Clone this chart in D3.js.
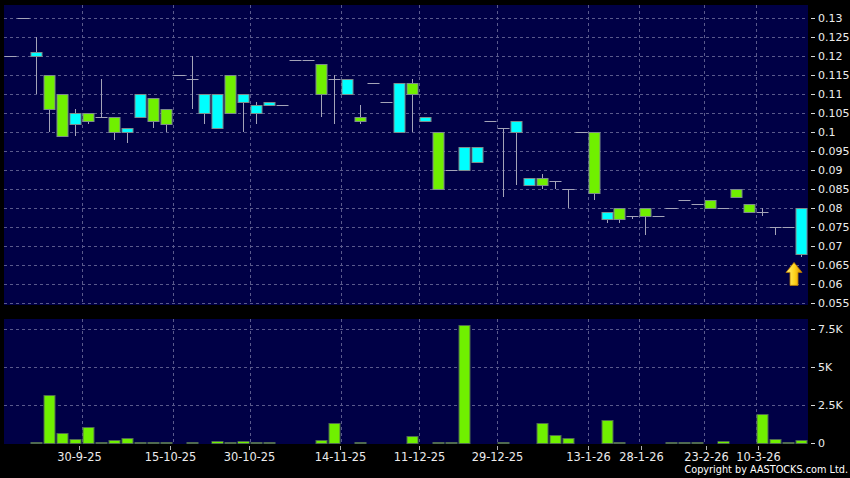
<!DOCTYPE html>
<html>
  <head>
    <meta charset="utf-8">
    <script src="https://d3js.org/d3.v7.min.js"></script>
    <style>
      body { margin: 0; background: #000; }
      svg { display: block; }
      text { font-family: "DejaVu Sans", sans-serif; font-size: 11px; fill: #ececec; }
    </style>
  </head>
  <body>
    <script type="text/javascript">

      // daily prices, one entry per trading slot (62 slots)
      var opens = [0.12, 0.13, 0.12, 0.115, 0.11, 0.102, 0.105, 0.104, 0.104, 0.1,
                   0.104, 0.109, 0.106, 0.115, 0.114, 0.105, 0.101, 0.115, 0.108, 0.105,
                   0.107, 0.107, 0.119, 0.119, 0.118, 0.114, 0.11, 0.104, 0.113, 0.108,
                   0.1, 0.113, 0.103, 0.1, 0.09, 0.09, 0.092, 0.103, 0.101, 0.1,
                   0.086, 0.088, 0.087, 0.085, 0.1, 0.1, 0.077, 0.08, 0.078, 0.08,
                   0.078, 0.08, 0.082, 0.081, 0.082, 0.08, 0.085, 0.081, 0.079, 0.075,
                   0.075, 0.068];
      var highs = [0.12, 0.13, 0.125, 0.115, 0.11, 0.106, 0.105, 0.114, 0.104, 0.101,
                   0.11, 0.109, 0.106, 0.115, 0.12, 0.11, 0.11, 0.115, 0.11, 0.108,
                   0.108, 0.107, 0.119, 0.119, 0.118, 0.115, 0.114, 0.107, 0.113, 0.108,
                   0.113, 0.114, 0.104, 0.1, 0.09, 0.096, 0.096, 0.103, 0.101, 0.103,
                   0.088, 0.089, 0.087, 0.085, 0.1, 0.1, 0.079, 0.08, 0.078, 0.08,
                   0.078, 0.08, 0.082, 0.081, 0.082, 0.08, 0.085, 0.081, 0.08, 0.075,
                   0.075, 0.08];
      var lows = [0.12, 0.13, 0.11, 0.1, 0.099, 0.099, 0.102, 0.104, 0.098, 0.097,
                  0.104, 0.101, 0.1, 0.115, 0.106, 0.102, 0.101, 0.105, 0.1, 0.102,
                  0.107, 0.107, 0.119, 0.119, 0.104, 0.102, 0.11, 0.102, 0.113, 0.108,
                  0.1, 0.1, 0.103, 0.085, 0.09, 0.09, 0.092, 0.103, 0.083, 0.086,
                  0.086, 0.085, 0.085, 0.08, 0.1, 0.082, 0.076, 0.076, 0.077, 0.073,
                  0.078, 0.08, 0.082, 0.081, 0.08, 0.08, 0.083, 0.079, 0.078, 0.073,
                  0.075, 0.067];
      var closes = [0.12, 0.13, 0.121, 0.106, 0.099, 0.105, 0.103, 0.104, 0.1, 0.101,
                    0.11, 0.103, 0.102, 0.115, 0.114, 0.11, 0.11, 0.105, 0.11, 0.107,
                    0.108, 0.107, 0.119, 0.119, 0.11, 0.114, 0.114, 0.103, 0.113, 0.108,
                    0.113, 0.11, 0.104, 0.085, 0.09, 0.096, 0.096, 0.103, 0.101, 0.103,
                    0.088, 0.086, 0.087, 0.085, 0.1, 0.084, 0.079, 0.077, 0.078, 0.078,
                    0.078, 0.08, 0.082, 0.081, 0.08, 0.08, 0.083, 0.079, 0.079, 0.075,
                    0.075, 0.08];
      var volumes = [0, 0, 30, 3160, 680, 240, 1030, 20, 175, 330,
                     70, 40, 20, 0, 40, 0, 110, 60, 110, 60,
                     60, 0, 0, 0, 175, 1320, 0, 60, 0, 0,
                     0, 480, 0, 40, 40, 7760, 0, 0, 40, 0,
                     0, 1320, 500, 330, 0, 0, 1490, 40, 0, 0,
                     0, 40, 50, 40, 0, 110, 0, 0, 1890, 240,
                     70, 220];

      // date labels and the slot each one sits on
      var labelSlots = [6, 13, 19, 26, 32, 38, 45, 49, 54, 58];
      var labelTexts = ["30-9-25", "15-10-25", "30-10-25", "14-11-25", "11-12-25",
                        "29-12-25", "13-1-26", "28-1-26", "23-2-26", "10-3-26"];

      var priceTicks = [0.13, 0.125, 0.12, 0.115, 0.11, 0.105, 0.1, 0.095,
                        0.09, 0.085, 0.08, 0.075, 0.07, 0.065, 0.06, 0.055];
      var priceTickLabels = ["0.13", "0.125", "0.12", "0.115", "0.11", "0.105", "0.1", "0.095",
                             "0.09", "0.085", "0.08", "0.075", "0.07", "0.065", "0.06", "0.055"];
      var volTicks = [7500, 5000, 2500, 0];
      var volTickLabels = ["7.5K", "5K", "2.5K", "0"];

      var W = 850, H = 478;
      var left = 4, right = 808;
      var priceTop = 5, priceBottom = 305;
      var volTop = 319, volBottom = 444;

      var navy = "#000046",
          gridColor = "#5a5a8c",
          wickColor = "#a4a4b8",
          edgeColor = "#7d8c8c",
          upColor = "#00ffff",
          downColor = "#70f000";

      var slots = d3.range(opens.length);

      var svg = d3.select("body")
        .append("svg")
          .attr("width", W)
          .attr("height", H);

      svg.append("rect").attr("width", W).attr("height", H).attr("fill", "#000");

      var x = d3.scaleBand().domain(slots).range([left, right]);
      var step = x.step();
      var bodyW = 11;
      function cx(i) { return Math.round(x(i) + step / 2 - 0.5) + 0.5; }

      // axis ticks under the volume panel run on a slightly wider scale
      var xTick = d3.scaleBand().domain(slots).range([0.5, 810.5]);

      var y = d3.scaleLinear().domain([0.055, 0.13]).range([303, 18]);
      var yv = d3.scaleLinear().domain([0, 7500]).range([443, 329]);

      // panels
      svg.append("rect")
        .attr("x", left).attr("y", priceTop)
        .attr("width", right - left).attr("height", priceBottom - priceTop)
        .attr("fill", navy);
      svg.append("rect")
        .attr("x", left).attr("y", volTop)
        .attr("width", right - left).attr("height", volBottom - volTop)
        .attr("fill", navy);

      // horizontal grid + right labels, price panel
      var pg = svg.append("g");
      priceTicks.forEach(function (v, k) {
        var yy = Math.round(y(v)) + 0.5;
        pg.append("line")
          .attr("x1", left).attr("x2", right).attr("y1", yy).attr("y2", yy)
          .attr("stroke", gridColor).attr("stroke-dasharray", "3,3");
        pg.append("line")
          .attr("x1", 811).attr("x2", 815).attr("y1", yy).attr("y2", yy)
          .attr("stroke", "#d8d8d8");
        pg.append("text")
          .attr("x", 818).attr("y", yy).attr("dy", "0.36em")
          .text(priceTickLabels[k]);
      });

      // horizontal grid + right labels, volume panel
      volTicks.forEach(function (v, k) {
        var yy = Math.round(yv(v)) + 0.5;
        if (v > 0) {
          pg.append("line")
            .attr("x1", left).attr("x2", right).attr("y1", yy).attr("y2", yy)
            .attr("stroke", gridColor).attr("stroke-dasharray", "3,3");
        }
        pg.append("line")
          .attr("x1", 811).attr("x2", 815).attr("y1", yy).attr("y2", yy)
          .attr("stroke", "#d8d8d8");
        pg.append("text")
          .attr("x", 818).attr("y", yy).attr("dy", "0.36em")
          .text(volTickLabels[k]);
      });

      // vertical grid lines at label slots, both panels
      labelSlots.forEach(function (s) {
        var gx = Math.round(x(s)) + 0.5;
        [[priceTop, priceBottom], [volTop, volBottom]].forEach(function (r) {
          pg.append("line")
            .attr("x1", gx).attr("x2", gx).attr("y1", r[0]).attr("y2", r[1])
            .attr("stroke", gridColor).attr("stroke-dasharray", "3,3");
        });
      });

      // x axis ticks + date labels
      labelSlots.forEach(function (s, k) {
        var tx = Math.round(xTick(s)) + 0.5;
        svg.append("line")
          .attr("x1", tx).attr("x2", tx).attr("y1", 446).attr("y2", 450)
          .attr("stroke", "#b0b0b0");
        svg.append("text")
          .attr("x", tx).attr("y", 461)
          .attr("text-anchor", "middle")
          .style("font-size", "11.4px")
          .text(labelTexts[k]);
      });

      // candles
      var cg = svg.append("g");
      slots.forEach(function (i) {
        var c = cx(i);
        var o = opens[i], cl = closes[i];
        cg.append("line")
          .attr("x1", c).attr("x2", c)
          .attr("y1", Math.round(y(highs[i]))).attr("y2", Math.round(y(lows[i])))
          .attr("stroke", wickColor);
        if (o === cl) {
          var yy = Math.round(y(o)) + 0.5;
          cg.append("line")
            .attr("x1", c - bodyW / 2 - 0.5).attr("x2", c + bodyW / 2 + 0.5)
            .attr("y1", yy).attr("y2", yy)
            .attr("stroke", wickColor);
        } else {
          var top = Math.round(y(Math.max(o, cl))) + 0.5;
          var bot = Math.round(y(Math.min(o, cl))) + 0.5;
          cg.append("rect")
            .attr("x", c - bodyW / 2).attr("y", top)
            .attr("width", bodyW).attr("height", bot - top)
            .attr("fill", cl > o ? upColor : downColor)
            .attr("stroke", edgeColor);
        }
      });

      // volume bars
      var vg = svg.append("g");
      slots.forEach(function (i) {
        if (!volumes[i]) return;
        var c = cx(i);
        var top = Math.round(yv(volumes[i])) + 0.5;
        var bot = Math.round(yv(0)) + 0.5;
        vg.append("rect")
          .attr("x", c - bodyW / 2).attr("y", Math.min(top, bot - 1))
          .attr("width", bodyW).attr("height", Math.max(bot - top, 1))
          .attr("fill", downColor)
          .attr("stroke", "#4f6a50");
      });

      // yellow arrow under the latest candle
      var last = slots.length - 1;
      var ax = x(last) + step / 2 - 7.5, ay = y(lows[last]) + 5;
      var grad = svg.append("defs").append("linearGradient")
        .attr("id", "arrowFill").attr("x1", 0).attr("x2", 1).attr("y1", 0).attr("y2", 0);
      grad.append("stop").attr("offset", "0%").attr("stop-color", "#fff27a");
      grad.append("stop").attr("offset", "55%").attr("stop-color", "#ffd21a");
      grad.append("stop").attr("offset", "100%").attr("stop-color", "#d98c00");
      svg.append("path")
        .attr("d", "M" + ax + "," + ay +
                   " l8,10 l-4,0 l0,13 l-8,0 l0,-13 l-4,0 z")
        .attr("fill", "url(#arrowFill)")
        .attr("stroke", "#b87800")
        .attr("stroke-width", 0.8);

      // condensed face keeps the line inside the frame
      svg.append("text")
        .attr("x", 848).attr("y", 472.5)
        .attr("text-anchor", "end")
        .style("fill", "#ffffff")
        .style("font-family", "'DejaVu Sans Condensed', 'Liberation Sans Narrow', sans-serif")
        .style("font-size", "10.8px")
        .text("Copyright by AASTOCKS.com Ltd.");

    </script>
  </body>
</html>
